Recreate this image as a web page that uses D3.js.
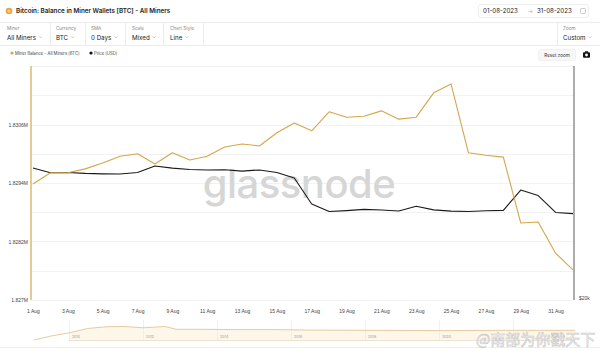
<!DOCTYPE html>
<html>
<head>
<meta charset="utf-8">
<style>
body { margin: 0; background: #fff; }
svg { display: block; font-family: Inter, "Noto Sans", sans-serif; }
.axis text { font-size: 5px; fill: #444; }
.axis path, .axis line { stroke: none; }
.lbl { font-size: 4.6px; fill: #8a8a8a; }
.val { font-size: 6.2px; fill: #222; }
</style>
</head>
<body>
<svg id="chart" width="600" height="351" viewBox="0 0 600 351"></svg>
<script src="https://d3js.org/d3.v7.min.js"></script>
<script>
// daily points, 1 Aug - 1 Sep 2023
let days = ["2023-08-01","2023-08-02","2023-08-03","2023-08-04","2023-08-05","2023-08-06","2023-08-07","2023-08-08",
    "2023-08-09","2023-08-10","2023-08-11","2023-08-12","2023-08-13","2023-08-14","2023-08-15","2023-08-16",
    "2023-08-17","2023-08-18","2023-08-19","2023-08-20","2023-08-21","2023-08-22","2023-08-23","2023-08-24",
    "2023-08-25","2023-08-26","2023-08-27","2023-08-28","2023-08-29","2023-08-30","2023-08-31","2023-09-01"];
// miner balance in millions of BTC
let balance = [1.82938, 1.82961, 1.82961, 1.82969, 1.82981, 1.82995, 1.83000, 1.82979,
    1.83002, 1.82987, 1.82995, 1.83014, 1.83020, 1.83016, 1.83043, 1.83063,
    1.83047, 1.83086, 1.83075, 1.83077, 1.83088, 1.83071, 1.83075, 1.83125,
    1.83143, 1.83002, 1.82997, 1.82993, 1.82858, 1.82860, 1.82796, 1.82762];
// price in USD
let price = [29570, 29150, 29180, 29100, 29060, 29050, 29180, 29740,
    29560, 29440, 29400, 29410, 29300, 29400, 29180, 28710,
    26580, 25990, 26060, 26160, 26110, 26030, 26400, 26120,
    26020, 25990, 26050, 26080, 27700, 27250, 25920, 25830];
let balanceTicks = [1.827, 1.8282, 1.8294, 1.8306];
let balanceGrid = [1.827, 1.8276, 1.8282, 1.8288, 1.8294, 1.83, 1.8306, 1.8312, 1.8318];
let priceTicks = [20000];
// overview strip: whole history (year, balance in M BTC)
let navYears = [2009.05, 2009.5, 2010.0, 2010.5, 2011.0, 2011.5, 2012.0, 2012.6, 2012.9, 2013.5, 2014.5, 2015.5, 2016.5, 2018, 2020, 2022, 2023.67];
let navBalance = [1.45, 1.6, 1.73, 1.9, 1.97, 1.98, 1.93, 1.98, 1.87, 1.87, 1.86, 1.86, 1.84, 1.83, 1.82, 1.83, 1.83];
let navTicks = [2010, 2012, 2014, 2016, 2018, 2020, 2022];
let navLabels = [2010, 2012, 2014, 2016, 2018, 2020];

let gold = "#d3a64b";
let svg = d3.select("#chart");
let parse = d3.utcParse("%Y-%m-%d");
let data = days.map((d, i) => ({date: parse(d), bal: balance[i], price: price[i]}));

let plotTop = 66, plotBottom = 300, plotLeft = 31, plotRight = 574;
let x = d3.scaleUtc()
    .domain([parse("2023-08-01"), parse("2023-09-01")])
    .range([33, 573]);
let yL = d3.scaleLinear().domain([1.827, 1.8318]).range([plotBottom, plotTop]);
let yR = d3.scaleLog().domain([20000, 40000]).range([plotBottom, plotTop]);

// header
svg.append("circle").attr("cx", 9).attr("cy", 11).attr("r", 3.3).attr("fill", "#f2a33a");
svg.append("circle").attr("cx", 9).attr("cy", 11).attr("r", 1.5).attr("fill", "#fff").attr("opacity", 0.5);
svg.append("text").attr("x", 16).attr("y", 13.2)
    .attr("font-size", 6.3).attr("font-weight", 600).attr("fill", "#222")
    .text("Bitcoin: Balance in Miner Wallets [BTC] - All Miners");

svg.append("rect").attr("x", 478.5).attr("y", 4.5).attr("width", 110).attr("height", 13).attr("rx", 2)
    .attr("fill", "#fff").attr("stroke", "#e2e2e2").attr("stroke-width", 0.6);
svg.append("text").attr("class", "val").attr("x", 483).attr("y", 13).attr("font-size", 5.4).text("01-08-2023");
svg.append("text").attr("x", 528).attr("y", 13).attr("font-size", 5.4).attr("fill", "#aaa").text("→");
svg.append("text").attr("class", "val").attr("x", 537).attr("y", 13).attr("font-size", 5.4).text("31-08-2023");
svg.append("rect").attr("x", 580.5).attr("y", 8.5).attr("width", 5).attr("height", 5).attr("rx", 0.8)
    .attr("fill", "none").attr("stroke", "#aaa").attr("stroke-width", 0.6);

svg.append("line").attr("x1", 0).attr("x2", 600).attr("y1", 22.5).attr("y2", 22.5).attr("stroke", "#ececec");
svg.append("line").attr("x1", 0).attr("x2", 600).attr("y1", 45.5).attr("y2", 45.5).attr("stroke", "#ececec");

let controls = [
    {x: 7, label: "Miner", value: "All Miners", sep: 50},
    {x: 56, label: "Currency", value: "BTC", sep: 85},
    {x: 91, label: "SMA", value: "0 Days", sep: 125},
    {x: 132, label: "Scale", value: "Mixed", sep: 163},
    {x: 170, label: "Chart Style", value: "Line", sep: 203},
    {x: 563, label: "Zoom", value: "Custom", sep: 557}
];
controls.forEach(function(c) {
    svg.append("text").attr("class", "lbl").attr("x", c.x).attr("y", 30).text(c.label);
    let t = svg.append("text").attr("class", "val").attr("x", c.x).attr("y", 39.5).text(c.value);
    let w = t.node().getComputedTextLength();
    svg.append("path")
        .attr("d", "M" + (c.x + w + 3) + ",36.3 l1.5,1.5 l1.5,-1.5")
        .attr("fill", "none").attr("stroke", "#999").attr("stroke-width", 0.5);
    svg.append("line").attr("x1", c.sep + 0.5).attr("x2", c.sep + 0.5).attr("y1", 23).attr("y2", 45)
        .attr("stroke", "#ececec");
});

// legend
svg.append("circle").attr("cx", 12).attr("cy", 53).attr("r", 1.6).attr("fill", gold);
svg.append("text").attr("x", 15).attr("y", 54.6).attr("font-size", 4.2).attr("fill", "#444")
    .text("Miner Balance - All Miners [BTC]");
svg.append("circle").attr("cx", 91).attr("cy", 53).attr("r", 1.6).attr("fill", "#111");
svg.append("text").attr("x", 94).attr("y", 54.6).attr("font-size", 4.2).attr("fill", "#444")
    .text("Price [USD]");

svg.append("rect").attr("x", 538.5).attr("y", 49.5).attr("width", 37).attr("height", 11).attr("rx", 2)
    .attr("fill", "#f7f7f7").attr("stroke", "#e6e6e6").attr("stroke-width", 0.5);
svg.append("text").attr("x", 557).attr("y", 56.6).attr("text-anchor", "middle")
    .attr("font-size", 4.6).attr("fill", "#333").text("Reset zoom");
svg.append("rect").attr("x", 583).attr("y", 52.3).attr("width", 7).attr("height", 5.5).attr("rx", 1).attr("fill", "#111");
svg.append("rect").attr("x", 585).attr("y", 51.3).attr("width", 3).attr("height", 1.5).attr("fill", "#111");
svg.append("circle").attr("cx", 586.5).attr("cy", 55).attr("r", 1.4).attr("fill", "#fff");

// grid
svg.append("g").selectAll("line")
    .data(balanceGrid)
    .join("line")
    .attr("x1", plotLeft).attr("x2", plotRight)
    .attr("y1", d => Math.round(yL(d)) + 0.5)
    .attr("y2", d => Math.round(yL(d)) + 0.5)
    .attr("stroke", "#efefef").attr("stroke-width", 0.8);

// watermark
svg.append("text").attr("x", 299).attr("y", 198).attr("text-anchor", "middle")
    .attr("font-size", 40).attr("font-weight", 500).attr("fill", "#d6d6d6")
    .attr("letter-spacing", -0.5).text("glassnode");

// axes
svg.append("g")
    .attr("class", "axis")
    .attr("transform", "translate(" + (plotLeft - 2) + ",0)")
    .call(d3.axisLeft(yL).tickValues(balanceTicks).tickSize(0).tickPadding(1)
        .tickFormat(d => d3.format(".4~f")(d) + "M"));
svg.append("g")
    .attr("class", "axis")
    .attr("transform", "translate(" + (plotRight + 2) + ",0)")
    .call(d3.axisRight(yR).tickValues(priceTicks).tickSize(0).tickPadding(3)
        .tickFormat(d => "$" + (d / 1000) + "k"))
    .selectAll("text").attr("dy", "-0.1em");
svg.append("g")
    .attr("class", "axis")
    .attr("transform", "translate(0," + plotBottom + ")")
    .call(d3.axisBottom(x).ticks(d3.utcDay.filter(d => d.getUTCDate() % 2 === 1 && d.getUTCMonth() === 7))
        .tickSize(0).tickPadding(9).tickFormat(d3.utcFormat("%-d %b")));

svg.append("line").attr("x1", plotLeft).attr("x2", plotLeft).attr("y1", plotTop).attr("y2", plotBottom)
    .attr("stroke", gold).attr("stroke-width", 1.2);
svg.append("line").attr("x1", plotRight).attr("x2", plotRight).attr("y1", plotTop).attr("y2", plotBottom)
    .attr("stroke", "#333").attr("stroke-width", 0.8);

// series
svg.append("path")
    .datum(data)
    .attr("fill", "none").attr("stroke", "#1a1a1a").attr("stroke-width", 1.1)
    .attr("stroke-linejoin", "round")
    .attr("d", d3.line().x(d => x(d.date)).y(d => yR(d.price)));
svg.append("path")
    .datum(data)
    .attr("fill", "none").attr("stroke", gold).attr("stroke-width", 1.1)
    .attr("stroke-linejoin", "round")
    .attr("d", d3.line().x(d => x(d.date)).y(d => yL(d.bal)));

// overview strip
let nx = d3.scaleLinear().domain([2009.03, 2023.67]).range([33, 575]);
let ny = d3.scaleLinear().domain([1.45, 2.0]).range([340, 326]);
let nav = navYears.map((d, i) => ({year: d, bal: navBalance[i]}));
svg.append("path")
    .datum(nav.filter(d => d.year >= 2009.95))
    .attr("fill", "#fdf7ea")
    .attr("d", d3.area().x(d => nx(d.year)).y0(340).y1(d => ny(d.bal)));
svg.append("g").selectAll("line")
    .data(navTicks)
    .join("line")
    .attr("x1", d => Math.round(nx(d)) + 0.5).attr("x2", d => Math.round(nx(d)) + 0.5)
    .attr("y1", 320).attr("y2", 341)
    .attr("stroke", "#e8e8e8").attr("stroke-width", 0.6);
svg.append("g").selectAll("text")
    .data(navLabels)
    .join("text")
    .attr("x", d => nx(d) + 3).attr("y", 338)
    .attr("font-size", 3.6).attr("fill", "#999")
    .text(d => d);
svg.append("line").attr("x1", nx(2010)).attr("x2", 575).attr("y1", 340.5).attr("y2", 340.5)
    .attr("stroke", "#d9c9a6").attr("stroke-width", 0.5);
svg.append("path")
    .datum(nav)
    .attr("fill", "none").attr("stroke", "#d8b87a").attr("stroke-width", 0.7)
    .attr("d", d3.line().x(d => nx(d.year)).y(d => ny(d.bal)));
svg.append("line").attr("x1", 0).attr("x2", 600).attr("y1", 347.5).attr("y2", 347.5).attr("stroke", "#eee");

// repost watermark
svg.append("text").attr("x", 476).attr("y", 345).attr("font-size", 15)
    .attr("font-family", "'Noto Sans CJK SC', sans-serif")
    .attr("fill", "#fff").attr("stroke", "#c8c8c8").attr("stroke-width", 0.6)
    .text("@南部为你戳天下");
</script>
</body>
</html>
